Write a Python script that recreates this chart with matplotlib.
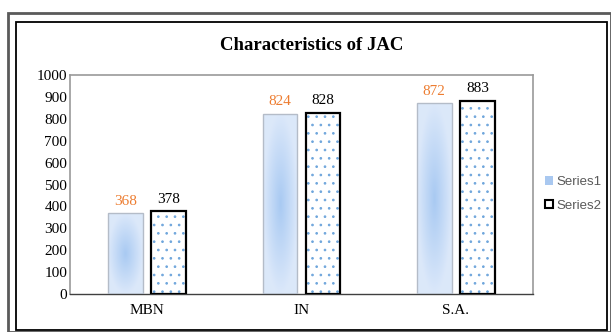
import numpy as np
import matplotlib
matplotlib.use("Agg")
import matplotlib.pyplot as plt
from matplotlib.patches import Rectangle

categories = ["MBN", "IN", "S.A."]
series1 = [368, 824, 872]
series2 = [378, 828, 883]
series_names = ["Series1", "Series2"]
yticks = [0, 100, 200, 300, 400, 500, 600, 700, 800, 900, 1000]

serif = ["Liberation Serif", "DejaVu Serif"]
plt.rcParams["hatch.linewidth"] = 0.7

fig = plt.figure(figsize=(6.11, 3.32), dpi=100)
W, H = 611, 332

# frames around the whole chart
fig.patches.append(Rectangle((8 / W, 0), 1 - 8 / W, 1 - 13 / H, transform=fig.transFigure,
                             fill=False, edgecolor="#5a5a5a", linewidth=2))
fig.patches.append(Rectangle((16 / W, 2 / H), 1 - 20 / W, 1 - 24 / H, transform=fig.transFigure,
                             fill=False, edgecolor="black", linewidth=1.3))

ax = fig.add_axes([70 / W, 1 - 294 / H, 463 / W, 219 / H])

x = np.arange(len(categories))
width = 0.225
off = 0.14

# radial blue gradient for the first series
gy, gx = np.mgrid[-1:1:120j, -1:1:60j]
r = np.clip(np.sqrt(gx ** 2 + gy ** 2), 0, 1)
c_in = np.array([0.66, 0.79, 0.95])
c_out = np.array([0.86, 0.91, 0.98])
grad = c_in[None, None, :] * (1 - r[..., None]) + c_out[None, None, :] * r[..., None]

for xi, v in zip(x, series1):
    x0 = xi - off - width / 2
    patch = Rectangle((x0, 0), width, v, facecolor="none", edgecolor="#b4bcc8", linewidth=1.0, zorder=3)
    ax.add_patch(patch)
    im = ax.imshow(grad, extent=(x0, x0 + width, 0, v), aspect="auto", zorder=2, interpolation="bilinear")
    im.set_clip_path(patch)
    ax.text(xi - off, v + 25, str(v), ha="center", va="bottom", color="#ed7d31",
            fontsize=11, family=serif)

for xi, v in zip(x, series2):
    ax.bar(xi + off, v, width, color="white", edgecolor="#6fa6dc", hatch="..", linewidth=0, zorder=2)
    ax.bar(xi + off, v, width, fill=False, edgecolor="black", linewidth=1.6, zorder=3)
    ax.text(xi + off, v + 25, str(v), ha="center", va="bottom", color="black",
            fontsize=11, family=serif)

ax.set_xlim(-0.5, 2.5)
ax.set_ylim(0, 1000)
ax.set_yticks(yticks)
ax.set_xticks(x)
ax.set_xticklabels(categories)
for lab in ax.get_xticklabels() + ax.get_yticklabels():
    lab.set_family(serif)
    lab.set_fontsize(11)
ax.tick_params(axis="y", length=0, pad=2)
ax.tick_params(axis="x", length=0, pad=7)
for side in ["left", "top", "right"]:
    ax.spines[side].set_color("#9a9a9a")
    ax.spines[side].set_linewidth(1.2)
ax.spines["bottom"].set_color("#404040")
ax.spines["bottom"].set_linewidth(1.0)

fig.text(0.5 * (70 + 553) / W, 1 - 45 / H, "Characteristics of JAC", ha="center", va="center",
         fontsize=13.5, fontweight="bold", family=serif)

handles = [Rectangle((0, 0), 1, 1, facecolor="#a9c8f0", edgecolor="none"),
           Rectangle((0, 0), 1, 1, facecolor="white", edgecolor="black", linewidth=1.5)]
fig.legend(handles, series_names, loc="center left", bbox_to_anchor=(533 / W, 1 - 194 / H),
           frameon=False, handlelength=0.6, handleheight=0.6, handletextpad=0.3,
           labelspacing=0.9, prop={"family": "Liberation Sans", "size": 9.5}, labelcolor="#595959")

fig.savefig("out.png", dpi=100)
